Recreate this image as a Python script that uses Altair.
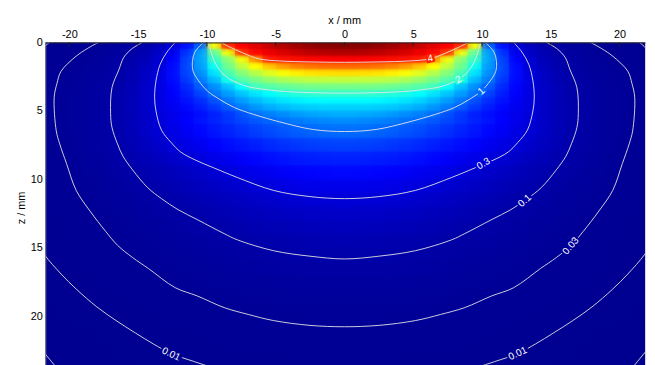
import altair as alt
import pandas as pd

# ---------------- data ----------------
X_TICKS = [-20, -15, -10, -5, 0, 5, 10, 15, 20]
Z_TICKS = [0, 5, 10, 15, 20]
X_DOMAIN = [-21.75, 21.85]
Z_DOMAIN = [0, 23.8]

# half-grid (x >= 0) cell edges in mm; the field is mirror-symmetric about x = 0
COL_EDGES = list(range(0, 23))
ROW_EDGES = [0, 0.5, 1, 1.5, 2, 2.5, 3, 3.5, 4, 4.5, 5, 5.5, 6,
             7, 8, 9, 10, 11, 12, 13, 14, 15, 16, 17, 18, 19, 20, 21, 22, 23, 24]

# estimated field value in each cell (rows = z bands, columns = x bands 0..22 mm)
FIELD = [
    [4.77, 4.75, 4.70, 4.63, 4.54, 4.43, 4.30, 4.16, 3.94, 2.90, 0.94, 0.53, 0.30, 0.19, 0.118, 0.080, 0.056, 0.040, 0.028, 0.021, 0.016, 0.012],
    [4.55, 4.53, 4.49, 4.42, 4.34, 4.24, 4.12, 3.88, 2.87, 2.20, 1.26, 0.70, 0.38, 0.23, 0.144, 0.094, 0.068, 0.050, 0.036, 0.027, 0.020, 0.015],
    [4.15, 4.14, 4.12, 4.09, 4.06, 4.01, 3.46, 2.88, 2.40, 2.00, 1.28, 0.78, 0.44, 0.26, 0.17, 0.109, 0.079, 0.059, 0.044, 0.033, 0.024, 0.0175],
    [3.65, 3.64, 3.60, 3.53, 3.40, 3.21, 2.95, 2.64, 2.27, 1.80, 1.24, 0.81, 0.49, 0.29, 0.19, 0.124, 0.087, 0.066, 0.050, 0.037, 0.028, 0.020],
    [3.10, 3.09, 3.07, 3.01, 2.92, 2.79, 2.59, 2.36, 2.09, 1.60, 1.17, 0.79, 0.50, 0.31, 0.21, 0.139, 0.095, 0.072, 0.054, 0.041, 0.031, 0.022],
    [2.65, 2.64, 2.63, 2.59, 2.53, 2.43, 2.30, 2.14, 1.84, 1.39, 1.06, 0.73, 0.49, 0.33, 0.21, 0.14, 0.102, 0.077, 0.058, 0.044, 0.033, 0.023],
    [2.30, 2.30, 2.29, 2.26, 2.21, 2.14, 2.05, 1.77, 1.44, 1.17, 0.92, 0.65, 0.46, 0.33, 0.23, 0.158, 0.110, 0.081, 0.061, 0.046, 0.035, 0.025],
    [1.98, 1.98, 1.96, 1.92, 1.85, 1.75, 1.61, 1.45, 1.25, 1.04, 0.79, 0.59, 0.44, 0.33, 0.23, 0.162, 0.113, 0.083, 0.063, 0.047, 0.036, 0.025],
    [1.73, 1.73, 1.71, 1.67, 1.61, 1.52, 1.40, 1.24, 1.07, 0.86, 0.67, 0.53, 0.41, 0.32, 0.23, 0.16, 0.115, 0.084, 0.063, 0.047, 0.036, 0.025],
    [1.51, 1.51, 1.49, 1.46, 1.40, 1.32, 1.21, 1.07, 0.90, 0.73, 0.59, 0.48, 0.39, 0.32, 0.23, 0.164, 0.117, 0.085, 0.064, 0.048, 0.036, 0.025],
    [1.33, 1.31, 1.28, 1.23, 1.16, 1.09, 1.01, 0.86, 0.72, 0.61, 0.51, 0.43, 0.36, 0.30, 0.22, 0.162, 0.117, 0.086, 0.064, 0.048, 0.035, 0.025],
    [1.16, 1.14, 1.11, 1.07, 1.02, 0.96, 0.89, 0.80, 0.71, 0.62, 0.54, 0.45, 0.37, 0.30, 0.226, 0.167, 0.120, 0.086, 0.064, 0.047, 0.035, 0.025],
    [1.00, 0.99, 0.96, 0.93, 0.88, 0.82, 0.76, 0.69, 0.62, 0.55, 0.47, 0.41, 0.34, 0.28, 0.216, 0.161, 0.117, 0.086, 0.064, 0.048, 0.035, 0.025],
    [0.78, 0.77, 0.75, 0.72, 0.69, 0.65, 0.60, 0.55, 0.50, 0.45, 0.39, 0.34, 0.30, 0.243, 0.192, 0.147, 0.109, 0.081, 0.060, 0.043, 0.031, 0.021],
    [0.61, 0.60, 0.59, 0.57, 0.54, 0.51, 0.47, 0.43, 0.39, 0.35, 0.31, 0.27, 0.23, 0.19, 0.155, 0.125, 0.098, 0.074, 0.055, 0.040, 0.028, 0.019],
    [0.48, 0.47, 0.46, 0.44, 0.42, 0.39, 0.37, 0.34, 0.30, 0.27, 0.238, 0.207, 0.177, 0.149, 0.124, 0.102, 0.081, 0.062, 0.047, 0.035, 0.026, 0.018],
    [0.37, 0.37, 0.36, 0.35, 0.33, 0.31, 0.29, 0.26, 0.238, 0.213, 0.188, 0.164, 0.141, 0.120, 0.101, 0.081, 0.065, 0.052, 0.040, 0.031, 0.023, 0.017],
    [0.29, 0.29, 0.28, 0.27, 0.257, 0.242, 0.224, 0.206, 0.186, 0.166, 0.147, 0.128, 0.110, 0.094, 0.079, 0.065, 0.054, 0.043, 0.035, 0.027, 0.021, 0.016],
    [0.228, 0.225, 0.219, 0.212, 0.201, 0.190, 0.176, 0.162, 0.147, 0.132, 0.116, 0.102, 0.088, 0.075, 0.063, 0.053, 0.043, 0.035, 0.028, 0.022, 0.018, 0.014],
    [0.178, 0.176, 0.171, 0.165, 0.157, 0.148, 0.137, 0.126, 0.114, 0.102, 0.091, 0.080, 0.070, 0.060, 0.052, 0.044, 0.037, 0.031, 0.025, 0.020, 0.016, 0.013],
    [0.139, 0.137, 0.134, 0.129, 0.123, 0.115, 0.107, 0.098, 0.089, 0.080, 0.071, 0.063, 0.055, 0.048, 0.042, 0.037, 0.032, 0.026, 0.022, 0.018, 0.015, 0.012],
    [0.109, 0.107, 0.105, 0.101, 0.097, 0.091, 0.086, 0.079, 0.073, 0.066, 0.060, 0.054, 0.048, 0.042, 0.036, 0.032, 0.027, 0.023, 0.019, 0.016, 0.013, 0.011],
    [0.085, 0.084, 0.083, 0.080, 0.077, 0.073, 0.069, 0.064, 0.060, 0.054, 0.049, 0.044, 0.039, 0.035, 0.030, 0.026, 0.022, 0.019, 0.016, 0.013, 0.011, 0.0086],
    [0.066, 0.066, 0.065, 0.063, 0.061, 0.058, 0.055, 0.051, 0.047, 0.044, 0.040, 0.036, 0.032, 0.028, 0.025, 0.022, 0.019, 0.016, 0.013, 0.011, 0.0092, 0.0076],
    [0.052, 0.051, 0.050, 0.049, 0.047, 0.045, 0.043, 0.040, 0.037, 0.034, 0.031, 0.028, 0.025, 0.022, 0.020, 0.017, 0.015, 0.013, 0.011, 0.0094, 0.0079, 0.0066],
    [0.041, 0.040, 0.040, 0.039, 0.037, 0.036, 0.034, 0.032, 0.030, 0.027, 0.025, 0.023, 0.021, 0.018, 0.016, 0.014, 0.012, 0.011, 0.0091, 0.0077, 0.0065, 0.0054],
    [0.032, 0.032, 0.031, 0.031, 0.030, 0.028, 0.027, 0.025, 0.024, 0.022, 0.020, 0.018, 0.016, 0.015, 0.013, 0.011, 0.0098, 0.0085, 0.0072, 0.0061, 0.0052, 0.0043],
    [0.025, 0.0247, 0.0243, 0.0237, 0.0229, 0.022, 0.0209, 0.0197, 0.0185, 0.0171, 0.0158, 0.0144, 0.013, 0.0117, 0.0104, 0.0092, 0.0081, 0.007, 0.006, 0.0052, 0.0044, 0.0037],
    [0.0195, 0.0193, 0.019, 0.0186, 0.018, 0.0173, 0.0165, 0.0156, 0.0147, 0.0137, 0.0127, 0.0116, 0.0106, 0.0095, 0.0086, 0.0076, 0.0067, 0.0059, 0.0051, 0.0044, 0.0038, 0.0032],
    [0.0151, 0.015, 0.0148, 0.0144, 0.014, 0.0135, 0.0128, 0.0121, 0.0114, 0.0106, 0.0098, 0.009, 0.0082, 0.0074, 0.0067, 0.0059, 0.0052, 0.0046, 0.004, 0.0034, 0.0029, 0.0025],
]

# contour lines, right half (x >= 0), in mm; mirrored for the left half
C_4 = [(0, 1.45), (2.5, 1.42), (4.7, 1.35), (6.2, 1.2), (7.3, 0.8), (8.3, 0.35), (9.0, 0)]
C_2 = [(0, 3.7), (2.5, 3.66), (4.7, 3.55), (6.0, 3.4), (7.1, 3.2), (8.3, 2.7), (9.0, 2.1),
       (9.45, 1.4), (9.7, 0.7), (9.9, 0)]
C_1 = [(0, 6.5), (2.3, 6.35), (4.7, 5.8), (6.6, 5.25), (8.0, 4.75), (9.0, 4.2), (9.95, 3.55),
       (10.6, 2.8), (11.0, 2.1), (11.05, 1.4), (10.9, 0.75), (10.6, 0.35), (10.25, 0)]
C_03 = [(0, 11.4), (2.5, 11.25), (5.15, 10.8), (7.8, 9.85), (9.5, 9.15), (10.8, 8.6), (11.9, 8.0),
        (12.6, 7.3), (13.3, 6.4), (13.7, 5.0), (13.8, 4.0), (13.7, 2.8), (13.4, 1.6), (12.9, 0.7), (12.3, 0)]
C_01 = [(0, 15.8), (2.5, 15.6), (5.15, 15.2), (7.8, 14.4), (8.75, 13.95), (10.66, 12.95), (12.1, 12.2),
        (13.3, 11.4), (14.3, 10.6), (15.4, 9.3), (16.1, 8.3), (16.5, 7.4), (16.9, 6.2), (17.0, 5.2),
        (16.9, 3.3), (16.4, 2.0), (16.05, 1.1), (15.5, 0.5), (14.7, 0)]
C_003 = [(0, 20.75), (2.5, 20.65), (5.15, 20.3), (7.0, 19.85), (8.75, 19.35), (10.7, 18.5), (12.3, 17.9),
         (14.25, 16.5), (15.4, 15.7), (16.5, 14.8), (17.35, 13.8), (18.5, 12.3), (19.5, 10.8), (20.2, 8.85),
         (20.7, 7.4), (20.95, 6.45), (21.1, 4.0), (20.9, 3.0), (20.6, 2.1), (19.5, 1.0), (18.7, 0.45), (17.9, 0)]
C_001_TOP = [(21.45, 0), (21.8, 0.3), (22.4, 1.0)]
C_001 = [(0, 25.2), (4, 24.9), (8, 24.2), (10.9, 23.3), (12.6, 22.7), (13.9, 22.0), (15.2, 21.2),
         (16.6, 20.3), (18.0, 19.3), (19.5, 18.0), (20.6, 16.9), (21.8, 15.5), (22.6, 14.2)]
C_0003 = [(22.6, 21.7), (21.7, 22.8), (20.8, 23.9)]

CONTOURS = [(4, C_4), (2, C_2), (1, C_1), (0.3, C_03), (0.1, C_01), (0.03, C_003),
            (0.01, C_001_TOP), (0.01, C_001), (0.003, C_0003)]

# inline contour labels
LABEL_TEXT = ["4", "2", "1", "0.3", "0.1", "0.03", "0.01", "0.01"]
LABEL_LEVEL = [4, 2, 1, 0.3, 0.1, 0.03, 0.01, 0.01]
LABEL_X = [6.25, 8.3, 9.95, 10.1, 13.1, 16.45, 12.6, -12.6]
LABEL_Z = [1.18, 2.7, 3.55, 8.85, 11.55, 14.85, 22.7, 22.75]
LABEL_ANGLE = [348, 328, 318, 330, 318, 310, 335, 25]

# ---------------- colour map (jet) ----------------
VMAX = 4.8
JET_DOMAIN = [0, 0.45, 1.75, 2.95, 4.15, VMAX]
JET_RANGE = ["#00008f", "#0000ff", "#00ffff", "#ffff00", "#ff0000", "#800000"]


def _rgb(h):
    return [int(h[i:i + 2], 16) for i in (1, 3, 5)]


def jet(v):
    v = min(max(v, JET_DOMAIN[0]), JET_DOMAIN[-1])
    for k in range(len(JET_DOMAIN) - 1):
        a, b = JET_DOMAIN[k], JET_DOMAIN[k + 1]
        if v <= b:
            t = (v - a) / (b - a)
            c0, c1 = _rgb(JET_RANGE[k]), _rgb(JET_RANGE[k + 1])
            c = [round(c0[i] + (c1[i] - c0[i]) * t) for i in range(3)]
            return "#%02x%02x%02x" % tuple(c)
    return JET_RANGE[-1]


# ---------------- build tables ----------------
OVERLAP = 0.04
z_top, z_bot = ROW_EDGES[0], ROW_EDGES[-1]
x_lo, x_hi = -COL_EDGES[-1], COL_EDGES[-1]

# layer A: one strip per x band, shaded top-to-bottom through its cell values
strips = []
for j in range(len(COL_EDGES) - 1):
    stops = []
    for i in range(len(ROW_EDGES) - 1):
        zc = 0.5 * (ROW_EDGES[i] + ROW_EDGES[i + 1])
        stops.append({"offset": (zc - z_top) / (z_bot - z_top), "color": jet(FIELD[i][j])})
    stops = [{"offset": 0, "color": stops[0]["color"]}] + stops + \
            [{"offset": 1, "color": stops[-1]["color"]}]
    grad = {"gradient": "linear", "x1": 0, "y1": 0, "x2": 0, "y2": 1, "stops": stops}
    a, b = COL_EDGES[j], COL_EDGES[j + 1]
    strips.append({"x": a - OVERLAP, "x2": b + OVERLAP, "z": z_top, "z2": z_bot, "g": grad})
    strips.append({"x": -b - OVERLAP, "x2": -a + OVERLAP, "z": z_top, "z2": z_bot, "g": grad})
strips_df = pd.DataFrame(strips)

# layer B: one band per z band, shaded left-to-right through its cell values
bands = []
for i in range(len(ROW_EDGES) - 1):
    row = FIELD[i]
    centres = [-(COL_EDGES[j] + COL_EDGES[j + 1]) / 2 for j in reversed(range(len(row)))] + \
              [(COL_EDGES[j] + COL_EDGES[j + 1]) / 2 for j in range(len(row))]
    vals = list(reversed(row)) + list(row)
    stops = [{"offset": (xc - x_lo) / (x_hi - x_lo), "color": jet(v)} for xc, v in zip(centres, vals)]
    stops = [{"offset": 0, "color": stops[0]["color"]}] + stops + \
            [{"offset": 1, "color": stops[-1]["color"]}]
    grad = {"gradient": "linear", "x1": 0, "y1": 0, "x2": 1, "y2": 0, "stops": stops}
    bands.append({"x": x_lo, "x2": x_hi, "z": ROW_EDGES[i] - OVERLAP, "z2": ROW_EDGES[i + 1] + OVERLAP,
                  "g": grad})
bands_df = pd.DataFrame(bands)

lines = []
pid = 0
for level, pts in CONTOURS:
    if pts[0][0] == 0:
        full = [(-x, z) for x, z in reversed(pts[1:])] + list(pts)
        pieces = [full]
    else:
        pieces = [list(pts), [(-x, z) for x, z in pts]]
    for piece in pieces:
        for k, (x, z) in enumerate(piece):
            lines.append({"x": x, "z": z, "seq": k, "piece": pid, "level": level})
        pid += 1
lines_df = pd.DataFrame(lines)


def box_shape(text):
    w = 5.6 * sum(c.isdigit() for c in text) + 2.8 * text.count(".") + 3
    h = 8.0
    r = h / w
    return f"M-1,-{r:.3f}L1,-{r:.3f}L1,{r:.3f}L-1,{r:.3f}Z", w * w


lab = []
for t, lv, x, z, ang in zip(LABEL_TEXT, LABEL_LEVEL, LABEL_X, LABEL_Z, LABEL_ANGLE):
    shp, size = box_shape(t)
    lab.append({"t": t, "c": jet(lv), "x": x, "z": z, "angle": ang, "shape": shp, "size": size})
lab_df = pd.DataFrame(lab)

ticks_df = pd.DataFrame({"x": X_TICKS})

# ---------------- scales / axes ----------------
FONT = "Liberation Sans"
xaxis = alt.Axis(orient="top", values=X_TICKS, title="x / mm", grid=False, tickSize=0,
                 labelExpr="'' + datum.value",
                 labelPadding=3, labelFont=FONT, labelFontSize=11, labelColor="#000",
                 titleFont=FONT, titleFontSize=11, titleFontWeight="normal", titleColor="#000",
                 titleX=302.5, titleY=-22.5, titleBaseline="middle",
                 domainColor="#222", domainWidth=1, zindex=2)
yaxis = alt.Axis(values=Z_TICKS, title="z / mm", grid=False, tickSize=0,
                 labelExpr="'' + datum.value",
                 labelPadding=3, labelFont=FONT, labelFontSize=11, labelColor="#000",
                 titleFont=FONT, titleFontSize=11, titleFontWeight="normal", titleColor="#000",
                 titleX=-24, titleY=167, titleBaseline="middle", titleAngle=270,
                 domainColor="#888", domainWidth=1, zindex=2)

xs = alt.Scale(domain=X_DOMAIN, nice=False, zero=False)
zs = alt.Scale(domain=Z_DOMAIN, nice=False, zero=False, reverse=True)


def X(f="x"):
    return alt.X(f"{f}:Q", scale=xs, axis=xaxis)


def Y(f="z"):
    return alt.Y(f"{f}:Q", scale=zs, axis=yaxis)


heat_a = alt.Chart(strips_df).mark_rect(clip=True, strokeWidth=0).encode(
    x=X(), x2="x2:Q", y=Y(), y2="z2:Q",
    fill=alt.Fill("g", scale=None, legend=None),
)
heat_b = alt.Chart(bands_df).mark_rect(clip=True, strokeWidth=0, fillOpacity=0.5).encode(
    x=X(), x2="x2:Q", y=Y(), y2="z2:Q",
    fill=alt.Fill("g", scale=None, legend=None),
)

contour = alt.Chart(lines_df).mark_line(clip=True, color="#e4e4e4", strokeWidth=0.9,
                                        interpolate="catmull-rom").encode(
    x=X(), y=Y(), detail="piece:N", order="seq:Q",
)

boxes = alt.Chart(lab_df).mark_point(filled=True, opacity=1, strokeWidth=0, clip=True).encode(
    x=X(), y=Y(),
    fill=alt.Fill("c:N", scale=None, legend=None),
    shape=alt.Shape("shape:N", scale=None, legend=None),
    size=alt.Size("size:Q", scale=None, legend=None),
    angle=alt.Angle("angle:Q", scale=None),
)

labels = alt.Chart(lab_df).mark_text(color="white", font=FONT, fontSize=10, clip=True,
                                     align="center", baseline="middle").encode(
    x=X(), y=Y(), text="t:N", angle=alt.Angle("angle:Q", scale=None),
)

tickmarks = alt.Chart(ticks_df).mark_rule(color="#222", strokeWidth=1).encode(
    x=X(), y=alt.value(0), y2=alt.value(4),
)

chart = alt.layer(heat_a, heat_b, contour, boxes, labels, tickmarks).properties(
    width=607, height=330,
    padding={"left": 37.7, "top": 32.7, "right": 2, "bottom": 0},
    autosize=alt.AutoSizeParams(type="none"),
).configure_view(stroke="#777", strokeWidth=1).configure(background="white")

chart.save("out.html", embed_options={"renderer": "svg", "actions": False})
